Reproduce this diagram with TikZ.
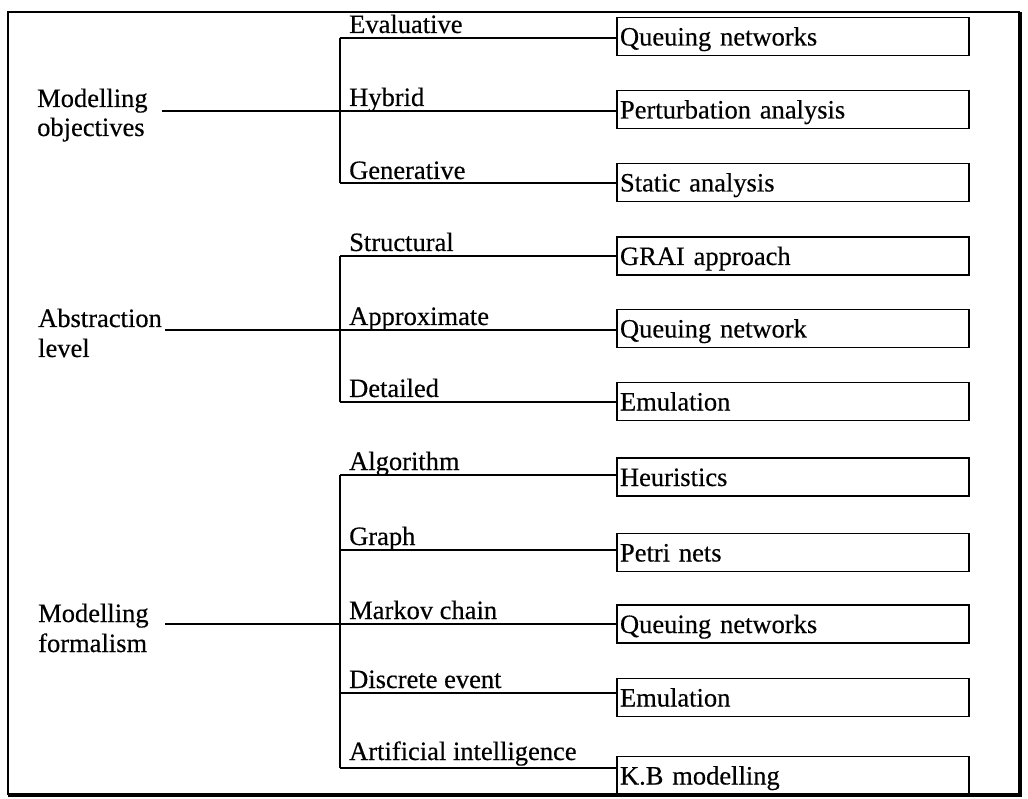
\documentclass[tikz,border=0pt]{standalone}
\usepackage{fontspec}
\setmainfont{Liberation Serif}[FakeBold=0.4]
\begin{document}
\begin{tikzpicture}[x=1pt,y=-1pt,
  every node/.style={font=\fontsize{26.5}{29}\selectfont, inner sep=0pt},
  leaf/.style={draw, line width=1.4pt, inner xsep=3pt, inner ysep=1pt,
    text width=346pt, align=left, text height=27pt, text depth=9pt},
  label/.style={anchor=base west},
  wire/.style={line width=1.6pt}]
\useasboundingbox (0,0) rectangle (1028,799);

% outer frame, heavier on the right and bottom
\draw[line width=1.5pt] (8,795) -- (8,12) -- (1020,12);
\draw[line width=3.5pt] (1020,12) -- (1020,795) -- (8,795);

% category labels
\node[label] (g1a) at (37,107) {Modelling};
\node[label] (g1b) at (37,136) {objectives};
\node[label] (g2a) at (38,327) {Abstraction};
\node[label] (g2b) at (38,357) {level};
\node[label] (g3a) at (38,622) {Modelling};
\node[label] (g3b) at (38,652) {formalism};

% start points of the category lines
\coordinate (s1) at (162,111);
\coordinate (s2) at (165,330);
\coordinate (s3) at (165,624);

% branch points on the brackets
\coordinate (a1) at (340,38);
\coordinate (a2) at (340,111);
\coordinate (a3) at (340,183);
\coordinate (a4) at (340,256);
\coordinate (a5) at (340,330);
\coordinate (a6) at (340,402);
\coordinate (a7) at (340,475);
\coordinate (a8) at (340,550);
\coordinate (a9) at (340,624);
\coordinate (a10) at (340,693);
\coordinate (a11) at (340,768);

% branch labels
\node[label] (l1) at (349,33) {Evaluative};
\node[label] (l2) at (349,106) {Hybrid};
\node[label] (l3) at (349,179) {Generative};
\node[label] (l4) at (349,251) {Structural};
\node[label] (l5) at (349,325) {Approximate};
\node[label] (l6) at (349,397) {Detailed};
\node[label] (l7) at (349,470) {Algorithm};
\node[label] (l8) at (349,545) {Graph};
\node[label] (l9) at (349,619) {Markov chain};
\node[label] (l10) at (349,688) {Discrete event};
\node[label] (l11) at (349,760) {Artificial intelligence};

% technique boxes
\node[leaf] (b1) at (793,36.5) {Queuing networks};
\node[leaf] (b2) at (793,109.5) {Perturbation analysis};
\node[leaf] (b3) at (793,182.5) {Static analysis};
\node[leaf] (b4) at (793,256) {GRAI approach};
\node[leaf] (b5) at (793,328.5) {Queuing network};
\node[leaf] (b6) at (793,401.5) {Emulation};
\node[leaf] (b7) at (793,477) {Heuristics};
\node[leaf] (b8) at (793,552.5) {Petri nets};
\node[leaf] (b9) at (793,624) {Queuing networks};
\node[leaf] (b10) at (793,697.5) {Emulation};
\node[leaf] (b11) at (793,775.5) {K.B modelling};

% category lines and brackets
\draw[wire] (s1) -- (a2);
\draw[wire] (s2) -- (a5);
\draw[wire] (s3) -- (a9);
\draw[wire] (a1) -- (a3);
\draw[wire] (a4) -- (a6);
\draw[wire] (a7) -- (a11);

% branches to boxes
\foreach \i in {1,...,11}
  \draw[wire] (a\i) -- (a\i -| b\i.west);
\end{tikzpicture}
\end{document}
